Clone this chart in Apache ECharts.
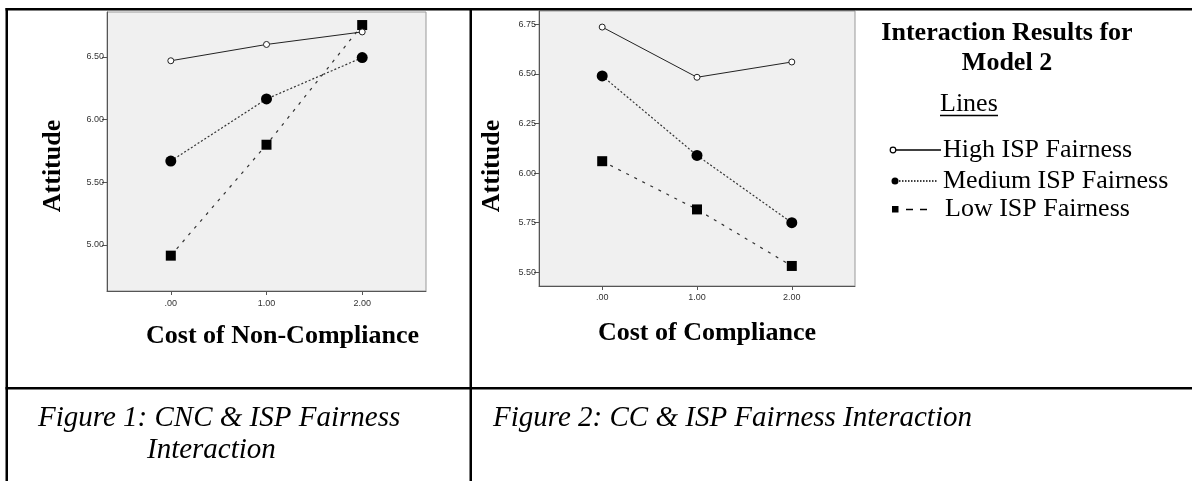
<!DOCTYPE html>
<html><head><meta charset="utf-8">
<script src="https://cdn.jsdelivr.net/npm/echarts@6/dist/echarts.min.js"></script>
<style>html,body{margin:0;padding:0;background:#fff}#c{width:1192px;height:481px}</style>
</head><body><div id="c"></div>
<script>
// ---- data ----
const xValues = [0, 1, 2];
const xTickLabels = ['.00', '1.00', '2.00'];
const seriesNames = ['High ISP Fairness', 'Medium ISP Fairness', 'Low ISP Fairness'];
// Figure 1: Cost of Non-Compliance
const fig1High = [6.47, 6.60, 6.70];
const fig1Medium = [5.67, 6.165, 6.495];
const fig1Low = [4.915, 5.80, 6.755];
const fig1YTicks = [5.00, 5.50, 6.00, 6.50];
// Figure 2: Cost of Compliance
const fig2High = [6.736, 6.483, 6.56];
const fig2Medium = [6.49, 6.089, 5.75];
const fig2Low = [6.06, 5.817, 5.532];
const fig2YTicks = [5.50, 5.75, 6.00, 6.25, 6.50, 6.75];
const xAxisTitles = ['Cost of Non-Compliance', 'Cost of Compliance'];
const yAxisTitle = 'Attitude';
const captions = ['Figure 1: CNC & ISP Fairness', 'Interaction', 'Figure 2: CC & ISP Fairness Interaction'];
const legendTitle = ['Interaction Results for', 'Model 2'];
const legendSub = 'Lines';

// ---- chart ----
const chart = echarts.init(document.getElementById('c'), null, {renderer: 'canvas'});
const SERIF = '"Liberation Serif", "Times New Roman", serif';
const SANS = '"Liberation Sans", Arial, sans-serif';

function pts(vals) { return xValues.map((x, i) => [x, vals[i]]); }

function xAxisDef(gi, margin) {
  return {
    gridIndex: gi, type: 'value', min: -2/3, max: 8/3,
    axisLine: {show: true, onZero: false, lineStyle: {color: '#555', width: 1}},
    axisTick: {show: true, customValues: xValues, length: 4, lineStyle: {color: '#555'}},
    axisLabel: {customValues: xValues, formatter: v => xTickLabels[xValues.indexOf(Math.round(v))],
      fontFamily: SANS, fontSize: 9, color: '#333', margin: margin},
    splitLine: {show: false}
  };
}
function yAxisDef(gi, min, max, ticks) {
  return {
    gridIndex: gi, type: 'value', min: min, max: max,
    axisLine: {show: true, onZero: false, lineStyle: {color: '#555', width: 1}},
    axisTick: {show: true, customValues: ticks, length: 5, lineStyle: {color: '#555'}},
    axisLabel: {customValues: ticks, formatter: v => v.toFixed(2),
      fontFamily: SANS, fontSize: 9, color: '#333', margin: 3},
    splitLine: {show: false}
  };
}
function seriesSet(gi, high, med, low) {
  return [
    {name: seriesNames[0], type: 'line', xAxisIndex: gi, yAxisIndex: gi, data: pts(high),
      symbol: 'circle', symbolSize: 6, z: 5,
      itemStyle: {color: '#fff', borderColor: '#222', borderWidth: 1},
      lineStyle: {color: '#222', width: 1, type: 'solid'}},
    {name: seriesNames[1], type: 'line', xAxisIndex: gi, yAxisIndex: gi, data: pts(med),
      symbol: 'circle', symbolSize: 11, z: 4,
      itemStyle: {color: '#000', borderColor: '#000', borderWidth: 0},
      lineStyle: {color: '#333', width: 1.2, type: [2, 2]}},
    {name: seriesNames[2], type: 'line', xAxisIndex: gi, yAxisIndex: gi, data: pts(low),
      symbol: 'rect', symbolSize: 10, z: 4,
      itemStyle: {color: '#000', borderColor: '#000', borderWidth: 0},
      lineStyle: {color: '#333', width: 1.2, type: [3, 6]}}
  ];
}

function txt(x, y, text, opts) {
  return {type: 'text', x: x, y: y, silent: true,
    style: Object.assign({text: text, fill: '#000', fontFamily: SERIF, fontSize: 26,
      align: 'left', verticalAlign: 'middle'}, opts || {})};
}
function rect(x, y, w, h) {
  return {type: 'rect', shape: {x: x, y: y, width: w, height: h}, style: {fill: '#000'}, silent: true};
}
function line(x1, y1, x2, y2, dash, w) {
  return {type: 'line', shape: {x1: x1, y1: y1, x2: x2, y2: y2}, silent: true,
    style: {stroke: '#000', lineWidth: w || 1.2, lineDash: dash || null}};
}

const graphics = [
  // table rules
  rect(5.5, 8, 1187, 2.5),
  rect(5.5, 8, 2.5, 473),
  rect(469.5, 8, 2.5, 473),
  rect(5.5, 387, 1187, 2.5),
  // axis titles
  Object.assign(txt(53, 166, yAxisTitle, {fontWeight: 'bold', align: 'center'}), {rotation: Math.PI / 2}),
  Object.assign(txt(492, 166, yAxisTitle, {fontWeight: 'bold', align: 'center'}), {rotation: Math.PI / 2}),
  txt(282.5, 336, xAxisTitles[0], {fontWeight: 'bold', align: 'center'}),
  txt(707, 333, xAxisTitles[1], {fontWeight: 'bold', align: 'center'}),
  // captions
  txt(38, 418, captions[0], {fontStyle: 'italic', fontSize: 29}),
  txt(147, 450, captions[1], {fontStyle: 'italic', fontSize: 29}),
  txt(493, 418, captions[2], {fontStyle: 'italic', fontSize: 29}),
  // legend block
  txt(1007, 33, legendTitle[0], {fontWeight: 'bold', align: 'center'}),
  txt(1007, 63, legendTitle[1], {fontWeight: 'bold', align: 'center'}),
  txt(940, 104, legendSub, {}),
  line(940, 115.5, 998, 115.5, null, 1.3),
  // legend keys
  line(896, 150, 941, 150, null, 1.3),
  {type: 'circle', shape: {cx: 893, cy: 150, r: 2.8}, style: {fill: '#fff', stroke: '#000', lineWidth: 1.2}, silent: true},
  txt(943, 150, seriesNames[0], {}),
  line(899, 181, 937, 181, [1.5, 1.5], 1.3),
  {type: 'circle', shape: {cx: 895, cy: 181, r: 3.5}, style: {fill: '#000'}, silent: true},
  txt(943, 181, seriesNames[1], {}),
  rect(892, 206, 6.5, 6.5),
  line(906, 209.5, 913, 209.5, null, 1.5),
  line(920, 209.5, 927, 209.5, null, 1.5),
  txt(945, 209, seriesNames[2], {})
];

chart.setOption({
  animation: false,
  backgroundColor: '#fff',
  grid: [
    {left: 107, top: 12, width: 319, height: 279, show: true, backgroundColor: '#f0f0f0', borderColor: '#999', borderWidth: 1, containLabel: false},
    {left: 539, top: 11, width: 316, height: 275, show: true, backgroundColor: '#f0f0f0', borderColor: '#999', borderWidth: 1, containLabel: false}
  ],
  xAxis: [xAxisDef(0, 8), xAxisDef(1, 7)],
  yAxis: [yAxisDef(0, 4.633, 6.859, fig1YTicks), yAxisDef(1, 5.431, 6.817, fig2YTicks)],
  series: [].concat(seriesSet(0, fig1High, fig1Medium, fig1Low), seriesSet(1, fig2High, fig2Medium, fig2Low)),
  graphic: graphics
});
</script>
</body></html>
